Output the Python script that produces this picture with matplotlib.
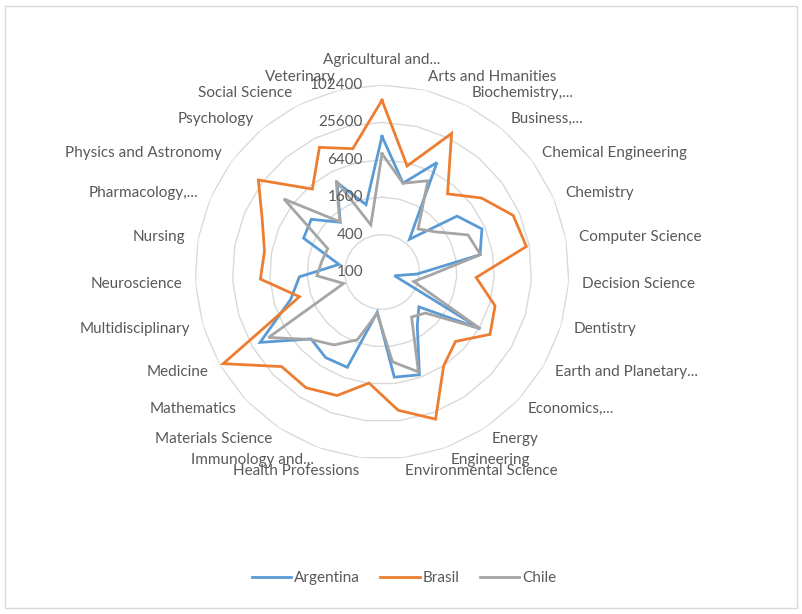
import numpy as np
import matplotlib
matplotlib.use("Agg")
import matplotlib.pyplot as plt
from matplotlib.patches import Rectangle
from matplotlib.transforms import offset_copy

plt.rcParams['font.family'] = ['Lato', 'DejaVu Sans']

# Subject areas (clockwise from the top)
categories = ["Agricultural and...", "Arts and Hmanities", "Biochemistry,...", "Business,...",
              "Chemical Engineering", "Chemistry", "Computer Science", "Decision Science",
              "Dentistry", "Earth and Planetary...", "Economics,...", "Energy", "Engineering",
              "Environmental Science", "Health Professions", "Immunology and...",
              "Materials Science", "Mathematics", "Medicine", "Multidisciplinary",
              "Neuroscience", "Nursing", "Pharmacology,...", "Physics and Astronomy",
              "Psychology", "Social Science", "Veterinary"]

argentina = [15270, 2950, 9380, 487, 3210, 5640, 4010, 367, 162, 6770, 656, 1080, 5770,
             5060, 447, 4300, 4460, 3720, 18460, 3420, 2150, 504, 2370, 2630, 1110, 4070, 1300]
brasil = [58200, 5680, 31300, 4380, 9890, 19960, 22900, 3300, 7940, 10180, 4250, 6400, 33200,
          17400, 6310, 13070, 16950, 16580, 89300, 2440, 9140, 8340, 12550, 30260, 5540, 17590, 10970]
chile = [8030, 2940, 4400, 802, 1206, 3220, 4070, 618, 341, 6670, 916, 736, 5140,
         2860, 468, 1450, 2540, 3820, 12870, 442, 1120, 965, 896, 9320, 1140, 4400, 602]

ring_values = [100, 400, 1600, 6400, 25600, 102400]
ring_labels = ["100", "400", "1600", "6400", "25600", "102400"]

series = [("Argentina", argentina, "#5b9bd5"),
          ("Brasil", brasil, "#ed7d31"),
          ("Chile", chile, "#a5a5a5")]

txt = "#595959"
grid = "#d9d9d9"
fs = 11

n = len(categories)
theta = np.arange(n) * 2 * np.pi / n
theta_c = np.append(theta, theta[0])

fig = plt.figure(figsize=(8.02, 6.14), dpi=100)
ax = fig.add_axes([195 / 802, 155 / 614, 374 / 802, 374 / 614], projection='polar')
ax.set_theta_zero_location('N')
ax.set_theta_direction(-1)
ax.set_rscale('log')
ax.set_rlim(100, 102400)
ax.grid(False)
ax.spines['polar'].set_visible(False)
ax.set_xticks([])
ax.set_yticks([])
ax.patch.set_alpha(0)

# polygon gridlines like Excel
for v in ring_values[1:]:
    ax.plot(theta_c, [v] * (n + 1), color=grid, lw=1.0, zorder=1)

for name, vals, col in series:
    ax.plot(theta_c, vals + vals[:1], color=col, lw=2.0, label=name, zorder=3,
            solid_joinstyle='miter')

# radial axis labels, just left of the top spoke
lab_tr = offset_copy(ax.transData, fig=fig, x=-19, y=0, units='dots')
for v, s in zip(ring_values, ring_labels):
    ax.text(0, v, s, transform=lab_tr, ha='right', va='center', fontsize=fs, color=txt)

# category labels around the outside
label_r = 100 * 4 ** (5 * 200 / 187)
for t, c in zip(theta, categories):
    deg = np.degrees(t)
    if deg < 1:
        ha, va, r = 'center', 'bottom', 100 * 4 ** (5 * 205 / 187)
    elif deg < 180:
        ha, va, r = 'left', 'center', label_r
    else:
        ha, va, r = 'right', 'center', label_r
    ax.text(t, r, c, ha=ha, va=va, fontsize=fs, color=txt, clip_on=False)

fig.legend(loc='center', bbox_to_anchor=(404 / 802, 1 - 578 / 614), ncol=3, frameon=False,
           fontsize=fs, labelcolor=txt, handlelength=2.6, handletextpad=0.2,
           columnspacing=1.3)

fig.patches.append(Rectangle((5 / 802, 6 / 614), 792 / 802, 602 / 614, transform=fig.transFigure,
                             fill=False, ec=grid, lw=1.0))

fig.savefig("out.png", dpi=100)
